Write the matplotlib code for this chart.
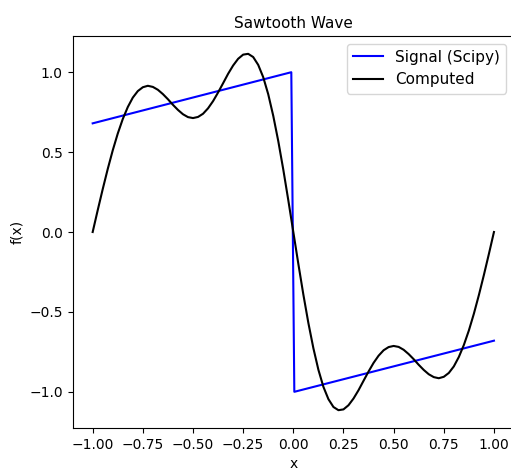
import numpy as np
import matplotlib
matplotlib.use("Agg")
from matplotlib import pyplot as plt

# scipy sawtooth signal (corner points)
sig_x = [-1.0, -0.01, 0.005, 1.0]
sig_y = [0.68, 1.0, -1.0, -0.68]

# computed curve, every 0.025 on x
comp_x = np.linspace(-1, 1, 81)
comp_y = [0.000, 0.136, 0.268, 0.394, 0.511, 0.616, 0.707, 0.782, 0.841, 0.882,
          0.906, 0.915, 0.908, 0.890, 0.863, 0.831, 0.796, 0.764, 0.737, 0.719,
          0.713, 0.720, 0.740, 0.774, 0.819, 0.873, 0.931, 0.990, 1.042, 1.084,
          1.110, 1.115, 1.095, 1.046, 0.969, 0.862, 0.727, 0.569, 0.391, 0.199,
          0.000,
          -0.199, -0.391, -0.569, -0.727, -0.862, -0.969, -1.046, -1.095, -1.115,
          -1.110, -1.084, -1.042, -0.990, -0.931, -0.873, -0.819, -0.774, -0.740,
          -0.720, -0.713, -0.719, -0.737, -0.764, -0.796, -0.831, -0.863, -0.890,
          -0.908, -0.915, -0.906, -0.882, -0.841, -0.782, -0.707, -0.616, -0.511,
          -0.394, -0.268, -0.136, 0.000]

fig = plt.figure(figsize=(5.11, 4.72), dpi=100)
# right spine sits just past the image edge, as in the reference
ax = fig.add_axes([0.1421, 0.0932, 0.8638, 0.8305])

ax.plot(sig_x, sig_y, color='b', label='Signal (Scipy)')
ax.plot(comp_x, comp_y, color='k', label='Computed')

ax.set_title("Sawtooth Wave", fontsize=11)
ax.set_xlabel("x")
ax.set_ylabel("f(x)")
ax.set_xticks([-1.0, -0.75, -0.5, -0.25, 0.0, 0.25, 0.5, 0.75, 1.0])
ax.set_yticks([-1.0, -0.5, 0.0, 0.5, 1.0])
ax.legend(loc='upper right', fontsize=11)

fig.savefig("out.png", dpi=100)
